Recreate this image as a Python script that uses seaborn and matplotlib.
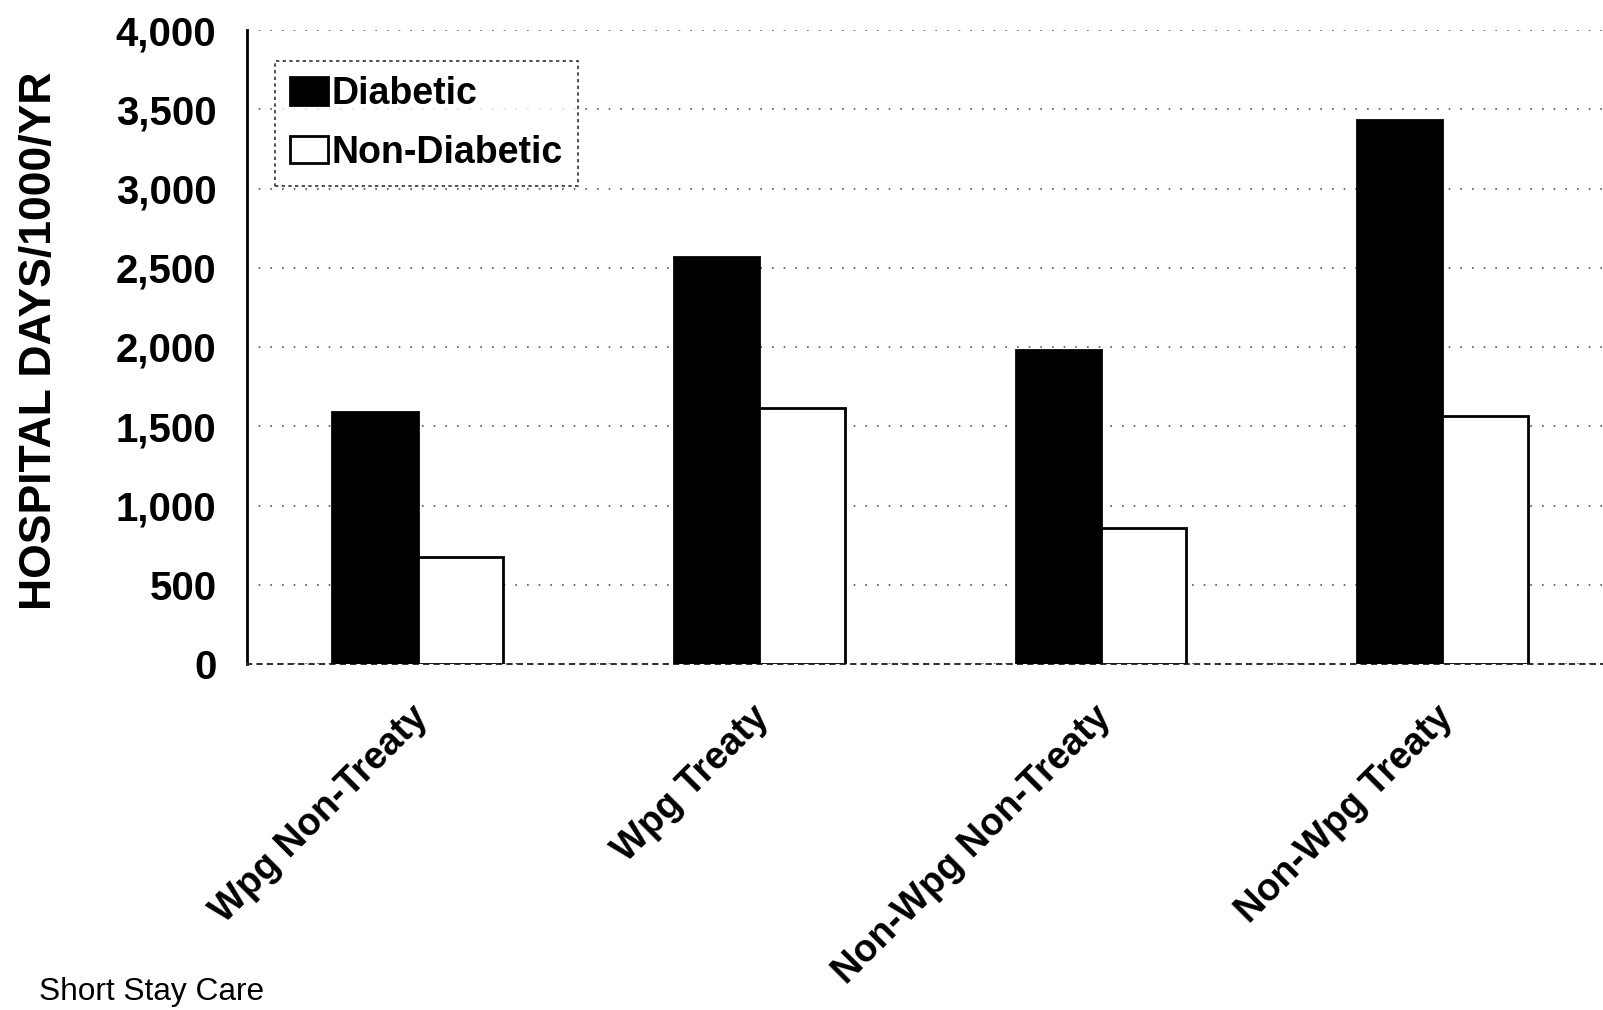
import matplotlib
matplotlib.use("Agg")
import matplotlib.pyplot as plt
import matplotlib.transforms as mtransforms
import seaborn as sns
import pandas as pd

categories = ["Wpg Non-Treaty", "Wpg Treaty", "Non-Wpg Non-Treaty", "Non-Wpg Treaty"]
diabetic = [1590, 2570, 1980, 3430]
non_diabetic = [675, 1615, 860, 1565]
series_names = ["Diabetic", "Non-Diabetic"]
y_ticks = [0, 500, 1000, 1500, 2000, 2500, 3000, 3500, 4000]

df = pd.DataFrame({
    "Group": categories * 2,
    "Status": [series_names[0]] * len(categories) + [series_names[1]] * len(categories),
    "Days": diabetic + non_diabetic,
})

sns.set_theme(style="white")
plt.rcParams["font.family"] = ["Liberation Sans", "DejaVu Sans"]
plt.rcParams["text.color"] = "black"
plt.rcParams["axes.labelcolor"] = "black"
plt.rcParams["xtick.color"] = "black"
plt.rcParams["ytick.color"] = "black"

fig = plt.figure(figsize=(16.03, 10.10), dpi=100)
ax = fig.add_axes([247 / 1603, 1 - 664 / 1010, 1 - 247 / 1603, (664 - 30) / 1010])

sns.barplot(data=df, x="Group", y="Days", hue="Status", order=categories,
            hue_order=series_names,
            palette={"Diabetic": "black", "Non-Diabetic": "white"},
            edgecolor="black", linewidth=2, width=0.5, gap=0, ax=ax,
            legend=True, zorder=3)

ax.set_ylim(0, 4000)
ax.set_xlim(-0.5, 3.47)
ax.set_yticks(y_ticks)
ax.set_yticklabels([f"{v:,}" for v in y_ticks], fontsize=29, fontweight="bold")
ax.tick_params(axis="y", length=0, pad=22)
ax.tick_params(axis="x", length=0, pad=8)
ax.set_xticks(range(len(categories)))
ax.set_xticklabels(categories, rotation=45, ha="right", rotation_mode="anchor",
                   fontsize=27.3, fontweight="bold")
offset = mtransforms.ScaledTranslation(-8 / 100, -24 / 100, fig.dpi_scale_trans)
for lbl in ax.get_xticklabels():
    lbl.set_transform(lbl.get_transform() + offset)
ax.set_xlabel("")
ax.set_ylabel("HOSPITAL DAYS/1000/YR", fontsize=32, fontweight="bold")
ax.yaxis.set_label_coords(-0.138, 0.510)

ax.yaxis.grid(True, linestyle=(0, (1, 6)), color="#555555", linewidth=1.2, zorder=0)
ax.xaxis.grid(False)
for s in ["top", "right"]:
    ax.spines[s].set_visible(False)
ax.spines["left"].set_color("black")
ax.spines["left"].set_linewidth(2)
ax.spines["bottom"].set_color("#333333")
ax.spines["bottom"].set_linestyle((0, (2, 3)))
ax.spines["bottom"].set_linewidth(1.5)

handles, labels = ax.get_legend_handles_labels()
leg = ax.legend(handles, labels, loc="upper left", bbox_to_anchor=(0.021, 0.951),
                borderaxespad=0, frameon=True, fancybox=False,
                prop={"size": 27, "weight": "bold"},
                handlelength=1.0, handleheight=0.75, handletextpad=0.1,
                labelspacing=0.6, borderpad=0.4)
frame = leg.get_frame()
frame.set_edgecolor("black")
frame.set_linestyle((0, (2, 2)))
frame.set_linewidth(1.2)

fig.text(39 / 1603, 1 - 1000 / 1010, "Short Stay Care", fontsize=22.8, ha="left", va="baseline")

fig.savefig("out.png", dpi=100)
